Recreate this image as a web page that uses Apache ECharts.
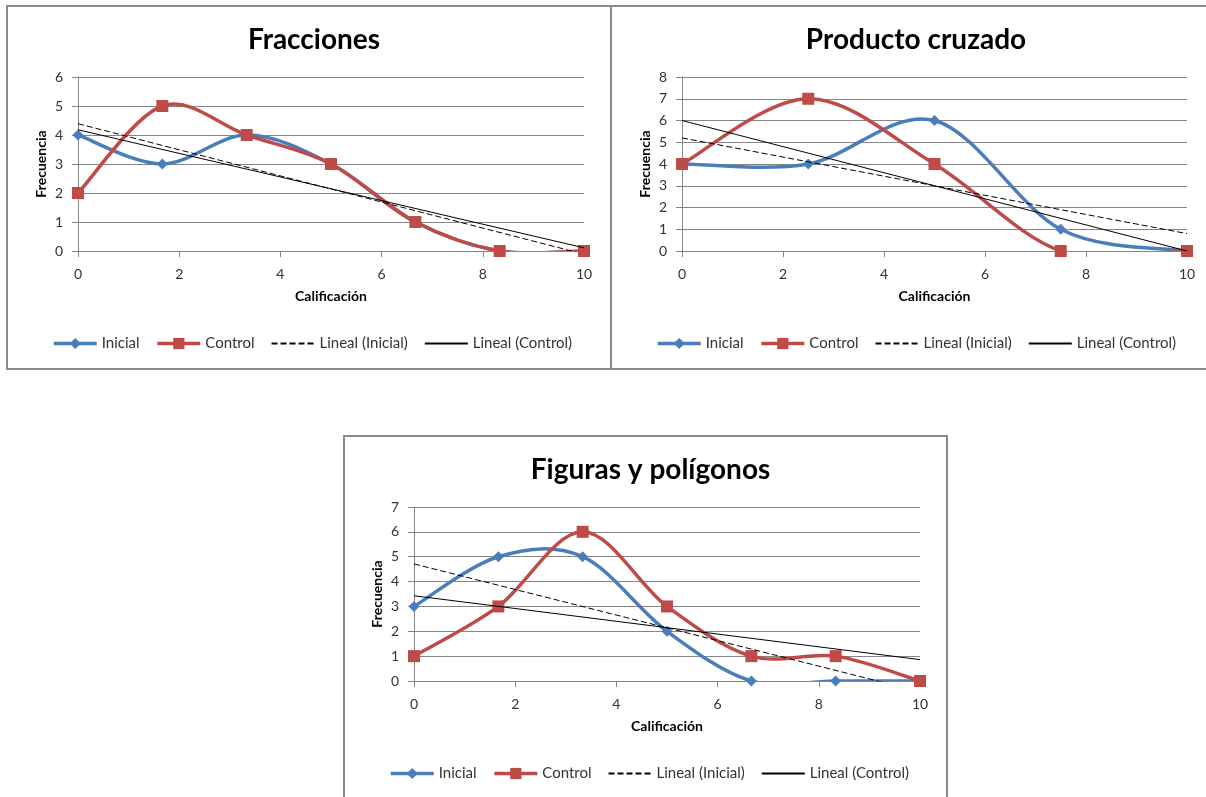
<!DOCTYPE html>
<html>
<head>
<meta charset="utf-8">
<script src="https://cdn.jsdelivr.net/npm/echarts@6/dist/echarts.min.js"></script>
<style>
html,body{margin:0;padding:0;background:#fff;}
#c{width:1206px;height:797px;}
</style>
</head>
<body>
<div id="c"></div>
<script>
// ---- data ----
var titles = ["Fracciones", "Producto cruzado", "Figuras y polígonos"];
var xName = "Calificación";
var yName = "Frecuencia";
var legendNames = ["Inicial", "Control", "Lineal (Inicial)", "Lineal (Control)"];

var fraccX = [0, 1.667, 3.333, 5, 6.667, 8.333, 10];
var fraccInicial = [4, 3, 4, 3, 1, 0, 0];
var fraccControl = [2, 5, 4, 3, 1, 0, 0];
var fraccTrendX = [0, 10];
var fraccTrendInicial = [4.39, -0.11];
var fraccTrendControl = [4.18, 0.11];

var prodX = [0, 2.5, 5, 7.5, 10];
var prodInicial = [4, 4, 6, 1, 0];
var prodControl = [4, 7, 4, 0, 0];
var prodTrendX = [0, 10];
var prodTrendInicial = [5.2, 0.8];
var prodTrendControl = [6.0, 0.0];

var figX = [0, 1.667, 3.333, 5, 6.667, 8.333, 10];
var figInicial = [3, 5, 5, 2, 0, 0, 0];
var figControl = [1, 3, 6, 3, 1, 1, 0];
var figTrendX = [0, 10];
var figTrendInicial = [4.71, -0.43];
var figTrendControl = [3.43, 0.86];

var yMax = [6, 8, 7];

// ---- layout / style ----
var FONT = "Lato, 'Open Sans', sans-serif";
var panels = [
  {x: 7, y: 6, w: 604, h: 363, gl: 78, gt: 77, gw: 506, gh: 174},
  {x: 611, y: 6, w: 600, h: 363, gl: 682, gt: 77, gw: 505, gh: 174},
  {x: 344, y: 436, w: 603, h: 372, gl: 414, gt: 507, gw: 506, gh: 174}
];
var datasets = [
  {x: fraccX, ini: fraccInicial, ctl: fraccControl, tx: fraccTrendX, ti: fraccTrendInicial, tc: fraccTrendControl},
  {x: prodX, ini: prodInicial, ctl: prodControl, tx: prodTrendX, ti: prodTrendInicial, tc: prodTrendControl},
  {x: figX, ini: figInicial, ctl: figControl, tx: figTrendX, ti: figTrendInicial, tc: figTrendControl}
];

function zip(a, b) { return a.map(function (v, i) { return [v, b[i]]; }); }

var BLUE = "#4A7EBB", RED = "#BE4B48", GRAY = "#868686", TXT = "#333333";

// Excel-like smoothed curve (Catmull-Rom / Bezier in pixel space), drawn through the axes
function curveSeries(name, xs, ys, color, k, z) {
  var pts = zip(xs, ys);
  return {
    name: name, type: "custom", xAxisIndex: k, yAxisIndex: k, clip: true, z: z, silent: true,
    data: pts,
    renderItem: function (params, api) {
      var i = params.dataIndex, n = pts.length;
      if (i >= n - 1) return null;
      var p0 = api.coord(pts[Math.max(i - 1, 0)]);
      var p1 = api.coord(pts[i]);
      var p2 = api.coord(pts[i + 1]);
      var p3 = api.coord(pts[Math.min(i + 2, n - 1)]);
      var c1 = [p1[0] + (p2[0] - p0[0]) / 6, p1[1] + (p2[1] - p0[1]) / 6];
      var c2 = [p2[0] - (p3[0] - p1[0]) / 6, p2[1] - (p3[1] - p1[1]) / 6];
      return {
        type: "bezierCurve",
        shape: {x1: p1[0], y1: p1[1], x2: p2[0], y2: p2[1], cpx1: c1[0], cpy1: c1[1], cpx2: c2[0], cpy2: c2[1]},
        style: {stroke: color, lineWidth: 3.5, fill: null, lineCap: "round"}
      };
    }
  };
}

var option = {
  animation: false,
  backgroundColor: "#fff",
  textStyle: {fontFamily: FONT},
  title: [], legend: [], grid: [], xAxis: [], yAxis: [], series: [],
  graphic: []
};

panels.forEach(function (p, k) {
  var d = datasets[k];
  option.graphic.push({type: "rect", shape: {x: p.x, y: p.y, width: p.w, height: p.h},
    style: {fill: null, stroke: "#8a8a8a", lineWidth: 2}, z: -1, silent: true});
  option.title.push({text: titles[k], left: p.x + p.w / 2, top: p.y + 15, textAlign: "center",
    textStyle: {fontFamily: FONT, fontWeight: "bold", fontSize: 28, color: "#000"}});
  option.legend.push({
    data: [
      {name: legendNames[0], lineStyle: {opacity: 1, width: 3.5, color: BLUE}},
      {name: legendNames[1], lineStyle: {opacity: 1, width: 3.5, color: RED}},
      {name: legendNames[2], itemStyle: {color: "rgba(0,0,0,0)", borderWidth: 0}},
      {name: legendNames[3], itemStyle: {color: "rgba(0,0,0,0)", borderWidth: 0}}
    ],
    left: p.x + 40, top: p.y + 325, itemWidth: 43, itemHeight: 14,
    itemGap: 16, textStyle: {fontFamily: FONT, fontSize: 15, color: TXT}});
  option.grid.push({left: p.gl, top: p.gt, width: p.gw, height: p.gh, containLabel: false});
  option.xAxis.push({type: "value", gridIndex: k, min: 0, max: 10, interval: 2,
    name: xName, nameLocation: "middle", nameGap: 38,
    nameTextStyle: {fontFamily: FONT, fontWeight: "bold", fontSize: 14, color: "#000"},
    axisLine: {show: true, onZero: false, lineStyle: {color: GRAY, width: 1}},
    axisTick: {show: true, length: 6, lineStyle: {color: GRAY}},
    axisLabel: {fontFamily: FONT, fontSize: 14, color: TXT, margin: 16},
    splitLine: {show: false}});
  option.yAxis.push({type: "value", gridIndex: k, min: 0, max: yMax[k], interval: 1,
    name: yName, nameLocation: "middle", nameGap: 30,
    nameTextStyle: {fontFamily: FONT, fontWeight: "bold", fontSize: 14, color: "#000"},
    axisLine: {show: true, lineStyle: {color: GRAY, width: 1}},
    axisTick: {show: true, length: 6, lineStyle: {color: GRAY}},
    axisLabel: {fontFamily: FONT, fontSize: 14, color: TXT, margin: 15},
    splitLine: {show: true, lineStyle: {color: GRAY, width: 1}}});

  option.series.push(curveSeries("Inicial curva", d.x, d.ini, BLUE, k, 2));
  option.series.push({name: "Inicial", type: "line", xAxisIndex: k, yAxisIndex: k,
    data: zip(d.x, d.ini), symbol: "diamond", symbolSize: 11, showAllSymbol: true,
    lineStyle: {color: BLUE, width: 3.5, opacity: 0}, itemStyle: {color: BLUE}, z: 3});
  option.series.push(curveSeries("Control curva", d.x, d.ctl, RED, k, 4));
  option.series.push({name: "Control", type: "line", xAxisIndex: k, yAxisIndex: k,
    data: zip(d.x, d.ctl), symbol: "rect", symbolSize: 12, showAllSymbol: true,
    lineStyle: {color: RED, width: 3.5, opacity: 0}, itemStyle: {color: RED}, z: 5});
  option.series.push({name: "Lineal (Inicial)", type: "line", xAxisIndex: k, yAxisIndex: k,
    data: zip(d.tx, d.ti), symbol: "circle", showSymbol: false, clip: true,
    lineStyle: {color: "#000", width: 1, type: [6, 3]}, itemStyle: {color: "#000"}, z: 6});
  option.series.push({name: "Lineal (Control)", type: "line", xAxisIndex: k, yAxisIndex: k,
    data: zip(d.tx, d.tc), symbol: "circle", showSymbol: false, clip: true,
    lineStyle: {color: "#000", width: 1}, itemStyle: {color: "#000"}, z: 6});
});

var chart = echarts.init(document.getElementById("c"), null, {renderer: "canvas"});
chart.setOption(option);
</script>
</body>
</html>
